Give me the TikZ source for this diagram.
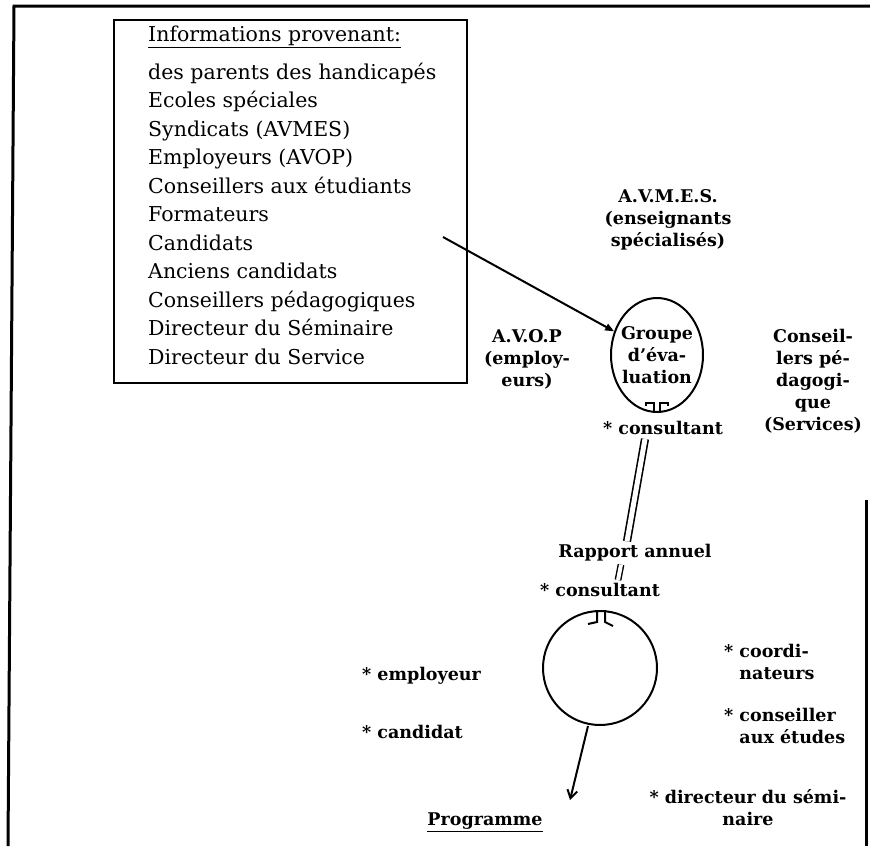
\documentclass[tikz,border=0pt]{standalone}
\usepackage{fontspec}
\setmainfont{DejaVu Serif}
\usetikzlibrary{arrows.meta,shapes.geometric}

\begin{document}
\begin{tikzpicture}[x=1pt,y=-1pt,
    lbl/.style={font=\fontsize{17.5}{22}\selectfont\bfseries,align=center,inner sep=0pt},
    star/.style={lbl,align=left},
    trait/.style={line width=2pt}]
  \useasboundingbox (0,0) rectangle (870,846);
  % page frame
  \draw[line width=3pt] (8,846) -- (14,6) -- (870,6);
  \draw[line width=3pt] (866,500) -- (866,846);
  % list of sources
  \draw[line width=2.6pt] (114,20) rectangle (467,383);
  \node[anchor=north west,align=left,inner sep=0pt,font=\fontsize{20.5}{28.5}\selectfont] (sources) at (148,26)
    {\underline{Informations provenant:}\\[9pt]
     des parents des handicapés\\
     Ecoles spéciales\\
     Syndicats (AVMES)\\
     Employeurs (AVOP)\\
     Conseillers aux étudiants\\
     Formateurs\\
     Candidats\\
     Anciens candidats\\
     Conseillers pédagogiques\\
     Directeur du Séminaire\\
     Directeur du Service};
  \coordinate (src) at (443,237);
  % evaluation group
  \node[draw,ellipse,trait,minimum width=92,minimum height=114] (groupe) at (657,355) {};
  \node[lbl] (groupetxt) at (groupe) {Groupe\\d'éva-\\luation};
  \node[lbl] (avmes) at (668,220) {A.V.M.E.S.\\(enseignants\\spécialisés)};
  \node[lbl] (avop) at (527,359) {A.V.O.P\\(employ-\\eurs)};
  \node[lbl] (conseil) at (813,381) {Conseil-\\lers pé-\\dagogi-\\que\\(Services)};
  \node[lbl] (consult1) at (663,428) {* consultant};
  \draw[-{Triangle[length=9pt,width=7pt]},trait] (src) -- (groupe);
  \draw[trait] ([xshift=-3]groupe.south) -- ++(0,-10) -- ++(-8,0) -- ++(0,3);
  \draw[trait] ([xshift=3]groupe.south) -- ++(0,-10) -- ++(8,0) -- ++(0,3);
  % annual report
  \node[lbl] (rapport) at (635,553) {Rapport annuel};
  \node[lbl] (consult2) at (600,590) {* consultant};
  \draw[line width=1.6pt,double,double distance=5pt] ([xshift=-18pt,yshift=-4pt]consult1.south) -- ([xshift=-8pt,yshift=3pt]rapport.north);
  \draw[line width=1.4pt,double,double distance=4pt] ([xshift=-14pt,yshift=-3pt]rapport.south) -- ([xshift=18pt,yshift=3pt]consult2.north);
  % programme meeting
  \node[draw,circle,trait,minimum size=114] (reunion) at (600,668) {};
  \draw[trait] ([xshift=-3]reunion.north) -- ++(0,12) -- ++(-9,2);
  \draw[trait] ([xshift=5]reunion.north) -- ++(0,12) -- ++(8,4);
  \node[star,anchor=west] (employeur) at (362,676) {* employeur};
  \node[star,anchor=west] (candidat) at (362,732) {* candidat};
  \node[star,anchor=west] (coord) at (724,662) {* coordi-\\\phantom{* }nateurs};
  \node[star,anchor=west] (etudes) at (724,726) {* conseiller\\\phantom{* }aux études};
  \node[lbl] (directeur) at (748,808) {* directeur du sémi-\\naire};
  \node[lbl] (programme) at (485,822) {\underline{Programme}};
  \coordinate (tip) at (570,800);
  \draw[-{Straight Barb[length=8pt,width=10pt]},trait] ([xshift=-12]reunion.south) -- (tip);
\end{tikzpicture}
\end{document}
